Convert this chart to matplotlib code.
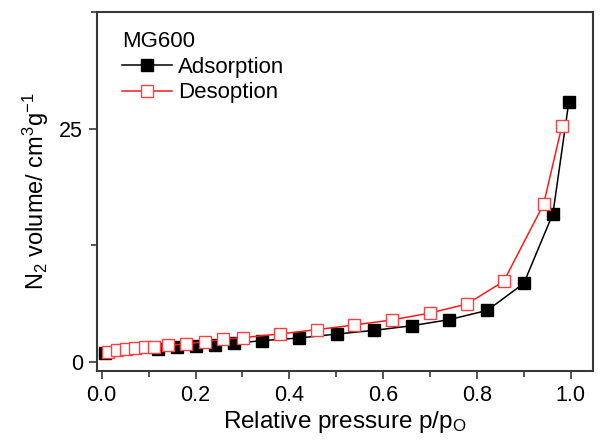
import matplotlib
matplotlib.use("Agg")
import matplotlib.pyplot as plt
from matplotlib.ticker import MultipleLocator

plt.rcParams['font.family'] = ['Liberation Sans', 'DejaVu Sans']
plt.rcParams['mathtext.fontset'] = 'custom'
plt.rcParams['mathtext.rm'] = 'Liberation Sans'
plt.rcParams['mathtext.it'] = 'Liberation Sans:italic'

# adsorption branch (filled squares)
ads_p = [0.007, 0.121, 0.160, 0.201, 0.242, 0.281, 0.341, 0.421, 0.502, 0.581,
         0.662, 0.741, 0.822, 0.900, 0.962, 0.996]
ads_v = [0.93, 1.39, 1.53, 1.64, 1.82, 1.96, 2.25, 2.54, 2.97, 3.36,
         3.86, 4.51, 5.50, 8.40, 15.88, 27.9]

# desorption branch (open squares)
des_p = [0.014, 0.032, 0.051, 0.072, 0.092, 0.112, 0.141, 0.180, 0.220, 0.259,
         0.301, 0.380, 0.458, 0.538, 0.618, 0.700, 0.779, 0.857, 0.942, 0.981]
des_v = [1.00, 1.21, 1.36, 1.43, 1.58, 1.61, 1.75, 1.90, 2.15, 2.40,
         2.58, 2.97, 3.43, 3.93, 4.47, 5.22, 6.19, 8.62, 16.88, 25.25]

fig = plt.figure(figsize=(6, 4.44), dpi=100)
ax = fig.add_axes([0.1617, 0.1644, 0.8263, 0.8086])

ax.plot(ads_p, ads_v, color='black', lw=1.1, marker='s', ms=8.5,
        mfc='black', mec='black', label='Adsorption')
ax.plot(des_p, des_v, color='#ff1a1a', lw=1.1, marker='s', ms=8.5,
        mfc='white', mec='#ff4040', mew=1.0, label='Desoption')

ax.set_xlim(-0.01, 1.047)
ax.set_ylim(-1.0, 37.5)
ax.xaxis.set_major_locator(MultipleLocator(0.2))
ax.xaxis.set_minor_locator(MultipleLocator(0.1))
ax.yaxis.set_major_locator(MultipleLocator(25))
ax.yaxis.set_minor_locator(MultipleLocator(12.5))
ax.xaxis.set_major_formatter(plt.FuncFormatter(lambda v, _: f'{v:.1f}'))
ax.yaxis.set_major_formatter(plt.FuncFormatter(lambda v, _: f'{v:.0f}'))

for s in ax.spines.values():
    s.set_linewidth(1.5)
    s.set_color('#383838')
ax.tick_params(which='both', direction='out', top=False, right=False,
               width=1.2, color='#383838', labelsize=15.5, pad=4)
ax.tick_params(which='major', length=6)
ax.tick_params(which='minor', length=4)

ax.set_xlabel('Relative pressure p/p$_\\mathrm{O}$', fontsize=17.5, labelpad=2)
ax.set_ylabel('N$_2$ volume/ cm$^3$g$^{-1}$', fontsize=17, labelpad=6)

leg = ax.legend(title='MG600', loc='upper left', bbox_to_anchor=(0.05, 0.948),
                frameon=False, fontsize=16, title_fontsize=16,
                handlelength=2.25, handletextpad=0.27, labelspacing=0.22,
                alignment='left', borderaxespad=0, borderpad=0)

fig.savefig('out.png', dpi=100)
